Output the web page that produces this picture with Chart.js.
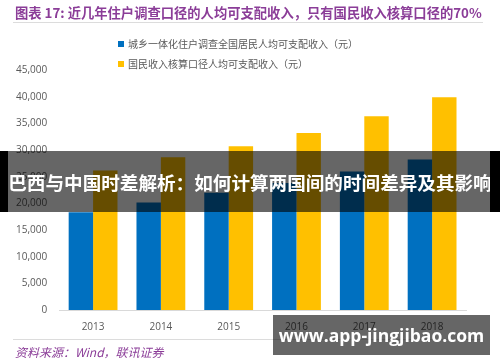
<!DOCTYPE html>
<html>
<head>
<meta charset="utf-8">
<script src="https://cdn.jsdelivr.net/npm/chart.js@4"></script>
<style>
  html, body { margin: 0; padding: 0; background: #fff; }
  #wrap { position: relative; width: 500px; height: 362px; overflow: hidden;
    font-family: "Noto Sans CJK SC", "Open Sans", sans-serif; }
  #chart { position: absolute; left: 0; top: 0; }
  .title { position: absolute; left: 15px; top: 3px; font-size: 13.3px; font-weight: bold;
    color: #8b3d98; white-space: nowrap; line-height: 20px; }
  .rule { position: absolute; left: 13px; width: 470px; height: 1px; background: #dcdcdc; }
  .legend { position: absolute; left: 118px; font-size: 10px; color: #595959; line-height: 14px; white-space: nowrap; }
  .legend i { display: inline-block; width: 6px; height: 6px; margin-right: 4px; vertical-align: 1px; }
  .source { position: absolute; left: 15px; top: 343px; font-size: 12px; font-style: italic;
    color: #8b3d98; white-space: nowrap; line-height: 18px; }
  .banner { position: absolute; left: 0; top: 151px; width: 500px; height: 61px; background: rgba(0,0,0,0.6); }
  .banner .txt { position: absolute; left: 0; width: 500px; top: 0; line-height: 61px; text-align: center;
    color: #fff; font-size: 18.6px; font-weight: bold; white-space: nowrap; }
  .edge { position: absolute; background: #000; }
  .mark { position: absolute; left: 273px; top: 315px; width: 217px; height: 40px; background: rgba(0,0,0,0.6);
    color: #fff; font-family: "Open Sans", sans-serif; font-weight: bold; font-size: 17.5px; line-height: 40px;
    text-align: center; white-space: nowrap; }
</style>
</head>
<body>
<div id="wrap">
  <canvas id="chart" width="500" height="362"></canvas>
  <div class="title">图表 17: 近几年住户调查口径的人均可支配收入，只有国民收入核算口径的70%</div>
  <div class="rule" style="top:22px"></div>
  <div class="legend" style="top:37px"><i style="background:#0070c0"></i>城乡一体化住户调查全国居民人均可支配收入（元）</div>
  <div class="legend" style="top:57px"><i style="background:#ffc000"></i>国民收入核算口径人均可支配收入（元）</div>
  <div class="rule" style="top:339px"></div>
  <div class="source">资料来源：Wind，联讯证券</div>
  <div class="banner"><div class="txt">巴西与中国时差解析：如何计算两国间的时间差异及其影响</div></div>
  <div class="edge" style="left:0;top:151px;width:8px;height:61px"></div>
  <div class="edge" style="left:490px;top:151px;width:10px;height:61px"></div>
  <div class="mark">www.app-jingjibao.com</div>
</div>
<script>
const years = ["2013", "2014", "2015", "2016", "2017", "2018"];
const surveyIncome = [18311, 20167, 21966, 23821, 25974, 28228];
const nationalIncome = [26170, 28620, 30700, 33200, 36340, 39900];
const yTicks = [0, 5000, 10000, 15000, 20000, 25000, 30000, 35000, 40000, 45000];

const ctx = document.getElementById("chart").getContext("2d");
new Chart(ctx, {
  type: "bar",
  data: {
    labels: years,
    datasets: [
      {
        label: "城乡一体化住户调查全国居民人均可支配收入（元）",
        data: surveyIncome,
        backgroundColor: "#0070c0",
        barPercentage: 1,
        categoryPercentage: 0.72,
      },
      {
        label: "国民收入核算口径人均可支配收入（元）",
        data: nationalIncome,
        backgroundColor: "#ffc000",
        barPercentage: 1,
        categoryPercentage: 0.72,
      },
    ],
  },
  options: {
    responsive: false,
    animation: false,
    layout: { padding: { top: 70, right: 34, bottom: 26, left: 12 } },
    plugins: {
      legend: { display: false },
      tooltip: { enabled: false },
    },
    scales: {
      x: {
        grid: { display: false },
        border: { color: "#d9d9d9", width: 1 },
        ticks: { color: "#595959", font: { size: 10, family: "Open Sans" } },
      },
      y: {
        min: 0,
        max: 45000,
        afterBuildTicks: (axis) => {
          axis.ticks = yTicks.map((v) => ({ value: v }));
        },
        grid: { display: false },
        border: { display: false },
        ticks: {
          color: "#595959",
          padding: 4,
          font: { size: 10, family: "Open Sans" },
          callback: (v) => v.toLocaleString("en-US"),
        },
      },
    },
  },
});
</script>
</body>
</html>
